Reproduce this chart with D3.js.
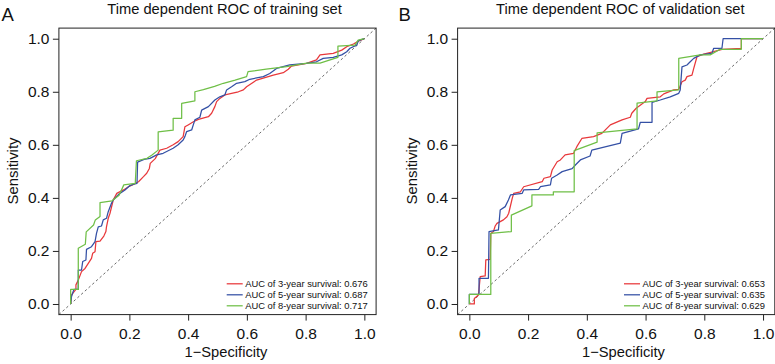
<!DOCTYPE html>
<html>
<head>
<meta charset="utf-8">
<script src="https://cdn.jsdelivr.net/npm/d3@7"></script>
<style>
  body { margin: 0; background: #fff; }
  text { font-family: "Liberation Sans", Arial, Helvetica, sans-serif; }
</style>
</head>
<body>
<script>
// ROC points [1-specificity, sensitivity]

// training set
const train3 = [[0,0],[0.003,0.034],[0.018,0.055],[0.018,0.072],[0.026,0.09],[0.037,0.122],[0.049,0.134],[0.06,0.153],[0.071,0.172],[0.075,0.191],[0.083,0.197],[0.086,0.235],[0.1,0.237],[0.113,0.256],[0.12,0.273],[0.122,0.291],[0.128,0.323],[0.134,0.342],[0.145,0.392],[0.157,0.417],[0.18,0.43],[0.197,0.442],[0.214,0.451],[0.231,0.461],[0.248,0.48],[0.259,0.493],[0.268,0.511],[0.271,0.53],[0.288,0.548],[0.304,0.58],[0.327,0.587],[0.349,0.6],[0.366,0.612],[0.383,0.631],[0.389,0.668],[0.4,0.675],[0.418,0.687],[0.435,0.696],[0.469,0.706],[0.48,0.719],[0.491,0.744],[0.497,0.763],[0.508,0.775],[0.525,0.788],[0.548,0.794],[0.571,0.8],[0.588,0.807],[0.599,0.819],[0.633,0.844],[0.69,0.863],[0.724,0.872],[0.741,0.885],[0.752,0.897],[0.803,0.907],[0.837,0.92],[0.849,0.939],[0.894,0.945],[0.923,0.957],[0.94,0.97],[0.963,0.98],[0.98,0.991],[1,1]];
const train5 = [[0,0],[0.003,0.028],[0.011,0.055],[0.026,0.055],[0.026,0.128],[0.037,0.128],[0.041,0.16],[0.052,0.166],[0.054,0.206],[0.071,0.216],[0.083,0.235],[0.088,0.266],[0.094,0.291],[0.105,0.294],[0.111,0.317],[0.122,0.323],[0.128,0.348],[0.139,0.38],[0.145,0.392],[0.165,0.415],[0.185,0.43],[0.2,0.445],[0.215,0.452],[0.226,0.455],[0.228,0.535],[0.25,0.545],[0.27,0.549],[0.293,0.562],[0.315,0.568],[0.349,0.587],[0.366,0.6],[0.383,0.618],[0.389,0.631],[0.395,0.65],[0.412,0.656],[0.423,0.694],[0.44,0.704],[0.446,0.731],[0.469,0.744],[0.491,0.769],[0.508,0.781],[0.525,0.788],[0.531,0.807],[0.548,0.819],[0.565,0.832],[0.593,0.838],[0.61,0.847],[0.656,0.857],[0.678,0.869],[0.701,0.888],[0.746,0.901],[0.803,0.907],[0.837,0.913],[0.86,0.926],[0.894,0.93],[0.923,0.939],[0.94,0.951],[0.951,0.964],[0.974,0.976],[0.98,0.993],[1,1]];
const train8 = [[0,0],[0,0.055],[0.026,0.055],[0.026,0.21],[0.05,0.225],[0.053,0.272],[0.078,0.298],[0.084,0.317],[0.1,0.33],[0.1,0.382],[0.141,0.389],[0.165,0.41],[0.181,0.449],[0.22,0.455],[0.224,0.54],[0.26,0.549],[0.277,0.562],[0.298,0.58],[0.298,0.649],[0.349,0.655],[0.349,0.7],[0.378,0.7],[0.378,0.756],[0.423,0.766],[0.423,0.8],[0.452,0.808],[0.49,0.82],[0.52,0.832],[0.56,0.844],[0.599,0.857],[0.604,0.876],[0.666,0.885],[0.735,0.895],[0.804,0.908],[0.849,0.908],[0.91,0.93],[0.91,0.972],[0.968,0.976],[0.979,0.995],[1,1]];

// validation set
const valid3 = [[0,0],[0.017,0],[0.017,0.021],[0.031,0.034],[0.037,0.103],[0.054,0.106],[0.056,0.166],[0.071,0.168],[0.073,0.266],[0.082,0.273],[0.088,0.294],[0.094,0.304],[0.116,0.317],[0.128,0.329],[0.134,0.342],[0.146,0.398],[0.151,0.417],[0.174,0.423],[0.185,0.442],[0.248,0.461],[0.254,0.474],[0.276,0.48],[0.282,0.505],[0.299,0.536],[0.31,0.543],[0.326,0.562],[0.355,0.568],[0.366,0.593],[0.383,0.624],[0.423,0.631],[0.451,0.643],[0.48,0.675],[0.52,0.694],[0.548,0.704],[0.553,0.719],[0.568,0.738],[0.599,0.763],[0.605,0.775],[0.65,0.781],[0.662,0.792],[0.696,0.807],[0.713,0.809],[0.724,0.838],[0.735,0.844],[0.741,0.857],[0.758,0.863],[0.764,0.888],[0.775,0.932],[0.798,0.942],[0.832,0.951],[0.86,0.96],[0.926,0.964],[0.926,1],[1,1]];
const valid5 = [[0,0],[0,0.036],[0.033,0.036],[0.033,0.097],[0.065,0.097],[0.067,0.273],[0.099,0.279],[0.105,0.354],[0.122,0.367],[0.133,0.392],[0.14,0.411],[0.18,0.417],[0.185,0.43],[0.236,0.432],[0.242,0.442],[0.276,0.449],[0.28,0.474],[0.299,0.486],[0.316,0.499],[0.35,0.51],[0.361,0.524],[0.378,0.543],[0.411,0.558],[0.417,0.58],[0.514,0.606],[0.52,0.643],[0.576,0.66],[0.582,0.685],[0.622,0.685],[0.622,0.76],[0.65,0.769],[0.684,0.781],[0.713,0.794],[0.718,0.807],[0.724,0.894],[0.741,0.901],[0.752,0.913],[0.764,0.926],[0.786,0.939],[0.826,0.945],[0.832,0.964],[0.86,0.964],[0.864,1],[1,1]];
const valid8 = [[0,0],[0,0.036],[0.073,0.036],[0.073,0.266],[0.143,0.273],[0.143,0.335],[0.213,0.37],[0.213,0.411],[0.286,0.411],[0.286,0.423],[0.357,0.423],[0.357,0.578],[0.435,0.61],[0.435,0.645],[0.571,0.66],[0.571,0.757],[0.639,0.766],[0.639,0.8],[0.713,0.807],[0.713,0.926],[0.786,0.939],[0.82,0.939],[0.854,0.96],[0.926,0.96],[0.926,1],[1,1]];

const years = [3, 5, 8];
const aucTrain = ["0.676", "0.687", "0.717"];
const aucValid = ["0.653", "0.635", "0.629"];
const tickVals = [0, 0.2, 0.4, 0.6, 0.8, 1.0];

const colors = ["#e8383b", "#3450a5", "#6fbf47"];
const font = '"Liberation Sans", Arial, Helvetica, sans-serif';

const svg = d3.select("body")
  .append("svg")
  .attr("width", 775)
  .attr("height", 364);

svg.append("rect").attr("width", 775).attr("height", 364).attr("fill", "#fff");

function drawPanel(p) {
  const x = d3.scaleLinear().domain([-0.04, 1.04]).range([p.left, p.left + 317.2]);
  const y = d3.scaleLinear().domain([-0.04, 1.04]).range([314.6, 28.1]);
  const g = svg.append("g");

  // axes
  const xAxis = g.append("g")
    .attr("transform", "translate(0," + y(-0.04) + ")")
    .call(d3.axisBottom(x).tickValues(tickVals).tickFormat(d3.format(".1f")).tickSize(6).tickPadding(7.4));
  const yAxis = g.append("g")
    .attr("transform", "translate(" + x(-0.04) + ",0)")
    .call(d3.axisLeft(y).tickValues(tickVals).tickFormat(d3.format(".1f")).tickSize(6).tickPadding(3.4));
  [xAxis, yAxis].forEach(a => {
    a.select(".domain").remove();
    a.attr("font-size", 15.5).attr("font-family", font);
    a.selectAll("line").attr("stroke", "#222");
    a.selectAll("text").attr("fill", "#111");
  });

  // reference diagonal
  g.append("line")
    .attr("x1", x(-0.04)).attr("y1", y(-0.04))
    .attr("x2", x(1.04)).attr("y2", y(1.04))
    .attr("stroke", "#444").attr("stroke-width", 0.8)
    .attr("stroke-dasharray", "2.5,2.5");

  // curves
  const line = d3.line().x(d => x(d[0])).y(d => y(d[1]));
  p.series.forEach((s, i) => {
    g.append("path")
      .datum(s)
      .attr("d", line)
      .attr("fill", "none")
      .attr("stroke", colors[i])
      .attr("stroke-width", 1.25)
      .attr("stroke-linejoin", "round");
  });

  // box
  g.append("rect")
    .attr("x", x(-0.04)).attr("y", y(1.04))
    .attr("width", x(1.04) - x(-0.04)).attr("height", y(-0.04) - y(1.04))
    .attr("fill", "none").attr("stroke", "#222").attr("stroke-width", 1);

  // legend
  const leg = g.append("g");
  years.forEach((yr, i) => {
    const ly = 283.8 + i * 11;
    leg.append("line")
      .attr("x1", p.legX).attr("x2", p.legX + 16)
      .attr("y1", ly).attr("y2", ly)
      .attr("stroke", colors[i]).attr("stroke-width", 1.25);
    leg.append("text")
      .attr("x", p.legX + 18.5).attr("y", ly)
      .attr("dy", "0.35em")
      .attr("font-size", 9.4)
      .attr("fill", "#111")
      .text("AUC of " + yr + "-year survival: " + p.auc[i]);
  });

  // titles and labels
  g.append("text")
    .attr("x", p.titleX).attr("y", 13.5)
    .attr("text-anchor", "middle")
    .attr("font-size", 14.7)
    .attr("fill", "#111")
    .text(p.title);
  g.append("text")
    .attr("x", p.xlabX).attr("y", 357.3)
    .attr("text-anchor", "middle")
    .attr("font-size", 14.7)
    .attr("fill", "#111")
    .text("1\u2212Specificity");
  g.append("text")
    .attr("transform", "translate(" + p.ylabX + ",171) rotate(-90)")
    .attr("text-anchor", "middle")
    .attr("font-size", 14.9)
    .attr("fill", "#111")
    .text("Sensitivity");
  g.append("text")
    .attr("x", p.letterX).attr("y", 21)
    .attr("font-size", 18.5)
    .attr("fill", "#111")
    .text(p.letter);
}

drawPanel({
  left: 58.9, series: [train3, train5, train8], auc: aucTrain,
  title: "Time dependent ROC of training set",
  titleX: 224.5, xlabX: 226, ylabX: 17.5, letter: "A", letterX: 1.5, legX: 226.7
});

drawPanel({
  left: 457.6, series: [valid3, valid5, valid8], auc: aucValid,
  title: "Time dependent ROC of validation set",
  titleX: 620.3, xlabX: 623.5, ylabX: 416.5, letter: "B", letterX: 398.5, legX: 624
});
</script>
</body>
</html>
